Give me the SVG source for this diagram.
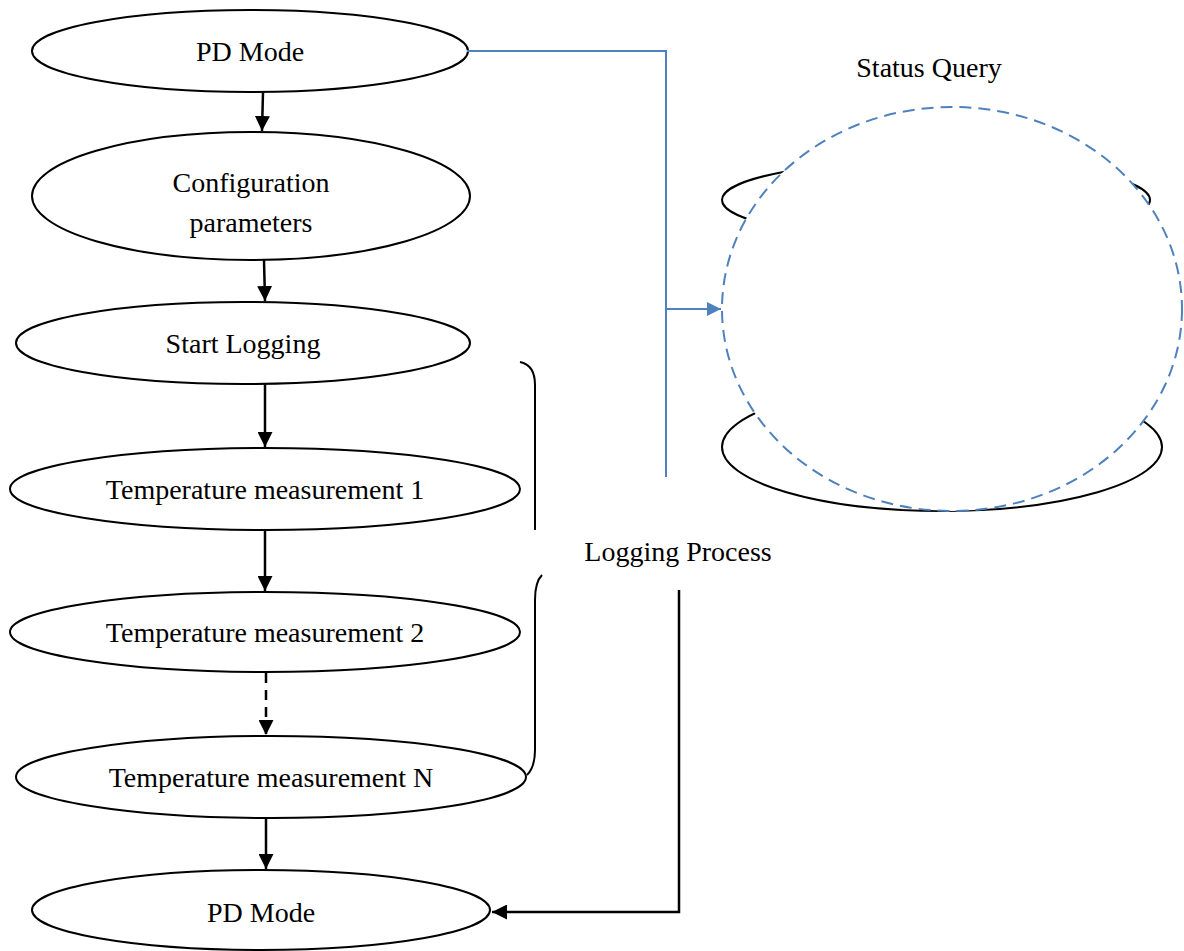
<svg xmlns="http://www.w3.org/2000/svg" width="1184" height="951" viewBox="0 0 1184 951">
  <defs>
    <style>
      .node { fill: #ffffff; stroke: #000000; stroke-width: 2; }
      .lbl { font-family: "Liberation Serif", "Times New Roman", serif; font-size: 28px; fill: #000000; text-anchor: middle; }
      .flow { fill: none; stroke: #000000; stroke-width: 2.5; }
      .query { fill: none; stroke: #4f81bd; stroke-width: 2; }
    </style>
    <marker id="arrowBlack" viewBox="0 0 10 10" refX="10" refY="5" markerWidth="6" markerHeight="6" markerUnits="strokeWidth" orient="auto">
      <path d="M0,0 L10,5 L0,10 Z" fill="#000000"/>
    </marker>
    <marker id="arrowBlue" viewBox="0 0 10 10" refX="10" refY="5" markerWidth="7" markerHeight="7" markerUnits="strokeWidth" orient="auto">
      <path d="M0,0 L10,5 L0,10 Z" fill="#4f81bd"/>
    </marker>
  </defs>

  <rect width="1184" height="951" fill="#ffffff"/>

  <!-- status query shapes -->
  <g id="status-upper">
    <ellipse class="node" cx="936" cy="200" rx="214" ry="40"/>
  </g>
  <g id="status-lower">
    <ellipse class="node" cx="942" cy="447" rx="220" ry="64"/>
  </g>
  <g id="status-query">
    <ellipse cx="952" cy="309" rx="230" ry="202" fill="#ffffff" stroke="#4f81bd" stroke-width="2" stroke-dasharray="12,7"/>
    <text class="lbl" x="929" y="77">Status Query</text>
  </g>

  <!-- flow nodes -->
  <g id="pd-mode-start">
    <ellipse class="node" cx="250" cy="51" rx="218" ry="41"/>
    <text class="lbl" x="250" y="61">PD Mode</text>
  </g>
  <g id="config-params">
    <ellipse class="node" cx="251" cy="196" rx="219" ry="64"/>
    <text class="lbl" x="251" y="192">Configuration</text>
    <text class="lbl" x="251" y="232">parameters</text>
  </g>
  <g id="start-logging">
    <ellipse class="node" cx="243" cy="343" rx="227" ry="41"/>
    <text class="lbl" x="243" y="353">Start Logging</text>
  </g>
  <g id="temp-1">
    <ellipse class="node" cx="265" cy="489" rx="255" ry="41"/>
    <text class="lbl" x="265" y="499">Temperature measurement 1</text>
  </g>
  <g id="temp-2">
    <ellipse class="node" cx="265" cy="632" rx="255" ry="40"/>
    <text class="lbl" x="265" y="642">Temperature measurement 2</text>
  </g>
  <g id="temp-n">
    <ellipse class="node" cx="271" cy="777" rx="255" ry="41"/>
    <text class="lbl" x="271" y="787">Temperature measurement N</text>
  </g>
  <g id="pd-mode-end">
    <ellipse class="node" cx="261" cy="910" rx="229" ry="40"/>
    <text class="lbl" x="261" y="922">PD Mode</text>
  </g>

  <!-- logging process brace and label -->
  <g id="logging-process">
    <path class="node" fill="none" d="M520,362 C530,364 535,372 535,385 L535,530"/>
    <path class="node" fill="none" d="M542,575 C537,580 535,588 535,600 L535,750 C535,762 532,770 527,775"/>
    <text class="lbl" x="678" y="561">Logging Process</text>
  </g>

  <!-- connectors -->
  <g id="connectors">
    <line class="flow" x1="263" y1="92" x2="262" y2="131" marker-end="url(#arrowBlack)"/>
    <line class="flow" x1="264" y1="260" x2="265" y2="301" marker-end="url(#arrowBlack)"/>
    <line class="flow" x1="265" y1="384" x2="265" y2="447" marker-end="url(#arrowBlack)"/>
    <line class="flow" x1="265" y1="530" x2="265" y2="591" marker-end="url(#arrowBlack)"/>
    <line class="flow" x1="266" y1="673" x2="266" y2="735" stroke-dasharray="10,7" marker-end="url(#arrowBlack)"/>
    <line class="flow" x1="266" y1="818" x2="266" y2="869" marker-end="url(#arrowBlack)"/>
    <polyline class="flow" points="679,590 679,912 492,912" marker-end="url(#arrowBlack)"/>
    <polyline class="query" points="467,51 666,51 666,477"/>
    <line class="query" x1="666" y1="309" x2="721" y2="309" marker-end="url(#arrowBlue)"/>
  </g>
</svg>
